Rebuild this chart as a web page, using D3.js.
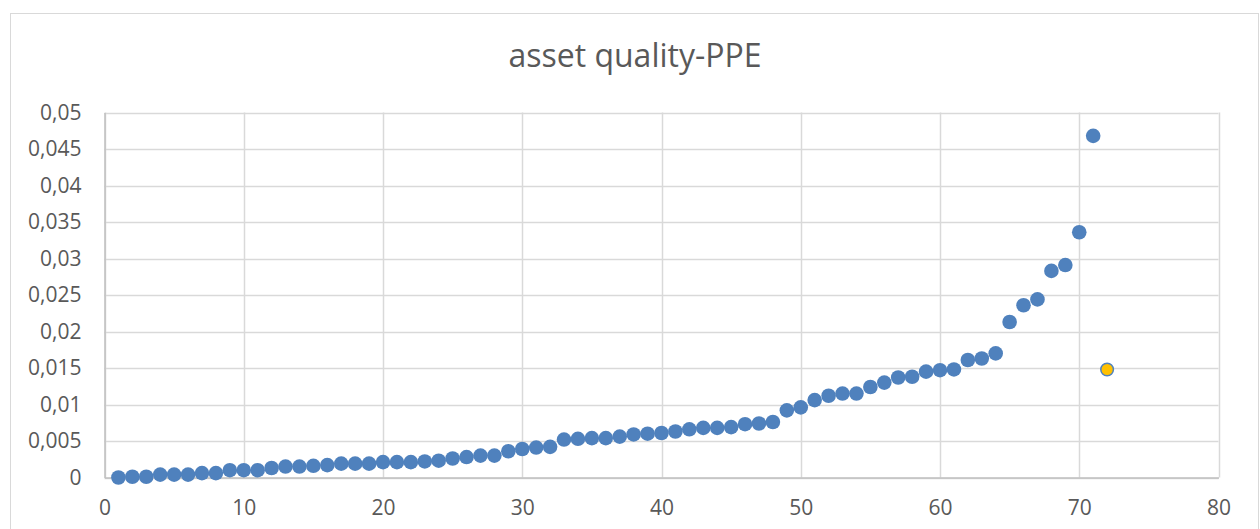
<!DOCTYPE html>
<html>
<head>
<meta charset="utf-8">
<script src="https://cdn.jsdelivr.net/npm/d3@7/dist/d3.min.js"></script>
<style>
html,body{margin:0;padding:0;background:#fff;}
svg{display:block;}
</style>
</head>
<body>
<svg id="chart" width="1260" height="529"></svg>
<script>
const title = "asset quality-PPE";
const xIndex = d3.range(1, 72);
const values = [
  0.0000, 0.0001, 0.0001, 0.0004, 0.0004, 0.0004, 0.0006, 0.0006, 0.0010, 0.0010,
  0.0010, 0.0013, 0.0015, 0.0015, 0.0016, 0.0017, 0.0019, 0.0019, 0.0019, 0.0021,
  0.0021, 0.0021, 0.0022, 0.0023, 0.0026, 0.0028, 0.0030, 0.0030, 0.0036, 0.0039,
  0.0041, 0.0042, 0.0052, 0.0053, 0.0054, 0.0054, 0.0056, 0.0059, 0.0060, 0.0061,
  0.0063, 0.0066, 0.0068, 0.0068, 0.0069, 0.0073, 0.0074, 0.0076, 0.0092, 0.0096,
  0.0106, 0.0112, 0.0115, 0.0115, 0.0124, 0.0130, 0.0137, 0.0138, 0.0145, 0.0147,
  0.0148, 0.0161, 0.0163, 0.0170, 0.0213, 0.0236, 0.0244, 0.0283, 0.0291, 0.0336,
  0.0468
];
const highlightX = [72];
const highlightValues = [0.0148];
const xTicks = [0, 10, 20, 30, 40, 50, 60, 70, 80];
const yTicks = [0, 0.005, 0.01, 0.015, 0.02, 0.025, 0.03, 0.035, 0.04, 0.045, 0.05];

const svg = d3.select("#chart");
const pLeft = 104.5, pRight = 1218.5, pTop = 112.5, pBottom = 477.5;
const x = d3.scaleLinear().domain([0, 80]).range([pLeft, pRight]);
const y = d3.scaleLinear().domain([0, 0.05]).range([pBottom, pTop]);

// outer chart border
svg.append("rect").attr("x", 10.5).attr("y", 13.5).attr("width", 1248).attr("height", 530)
  .attr("fill", "#fff").attr("stroke", "#d9d9d9").attr("stroke-width", 1);

// title
svg.append("text").attr("x", 635).attr("y", 67).attr("text-anchor", "middle")
  .attr("font-family", "'Open Sans', sans-serif").attr("font-size", 32)
  .attr("fill", "#595959").text(title);

const fmt = v => String(+v.toFixed(4)).replace(".", ",");

// gridlines
svg.append("g").selectAll("line").data(yTicks).join("line")
  .attr("x1", pLeft).attr("x2", pRight)
  .attr("y1", d => Math.round(y(d)) + 0.5).attr("y2", d => Math.round(y(d)) + 0.5)
  .attr("stroke", "#d9d9d9").attr("stroke-width", 1.5);
svg.append("g").selectAll("line").data(xTicks).join("line")
  .attr("y1", pTop).attr("y2", pBottom)
  .attr("x1", d => Math.round(x(d)) + 0.5).attr("x2", d => Math.round(x(d)) + 0.5)
  .attr("stroke", "#d9d9d9").attr("stroke-width", 1.5);

// axes
const yAxis = d3.axisLeft(y).tickValues(yTicks).tickFormat(fmt).tickSize(0).tickPadding(23);
const gy = svg.append("g").attr("transform", `translate(${pLeft},0)`).call(yAxis);
gy.select(".domain").attr("stroke", "#bfbfbf").attr("stroke-width", 1.5);
gy.selectAll("text").attr("font-family", "'Open Sans', sans-serif").attr("font-size", 21)
  .attr("fill", "#595959");

const xAxis = d3.axisBottom(x).tickValues(xTicks).tickFormat(d3.format("d")).tickSize(0).tickPadding(23);
const gx = svg.append("g").attr("transform", `translate(0,${pBottom})`).call(xAxis);
gx.select(".domain").attr("stroke", "#bfbfbf").attr("stroke-width", 1.5);
gx.selectAll("text").attr("font-family", "'Open Sans', sans-serif").attr("font-size", 21)
  .attr("fill", "#595959");

// points
svg.append("g").selectAll("circle").data(values).join("circle")
  .attr("cx", (d, i) => x(xIndex[i])).attr("cy", d => y(d)).attr("r", 7.3)
  .attr("fill", "#4f81bd");

svg.append("g").selectAll("circle").data(highlightValues).join("circle")
  .attr("cx", (d, i) => x(highlightX[i])).attr("cy", d => y(d)).attr("r", 6.3)
  .attr("fill", "#ffc000").attr("stroke", "#4f81bd").attr("stroke-width", 1.5);
</script>
</body>
</html>
